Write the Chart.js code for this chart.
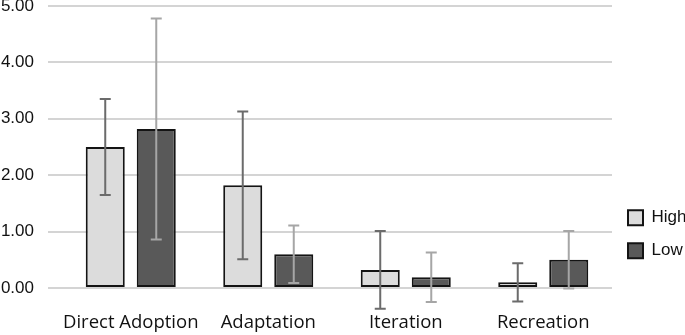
<!DOCTYPE html>
<html>
<head>
<meta charset="utf-8">
<script src="https://cdn.jsdelivr.net/npm/chart.js@4.4.1/dist/chart.umd.min.js"></script>
<style>
  html, body { margin: 0; padding: 0; background: #fff; }
  #wrap { width: 685px; height: 335px; position: relative; }
</style>
</head>
<body>
<div id="wrap"><canvas id="chart"></canvas></div>
<script>
// values
const categories = ['Direct Adoption', 'Adaptation', 'Iteration', 'Recreation']
const highValues = [2.50, 1.82, 0.32, 0.10]
const lowValues = [2.82, 0.60, 0.19, 0.50]
const highErrors = [0.85, 1.31, 0.69, 0.34]
const lowErrors = [1.96, 0.51, 0.44, 0.51]
const yTicks = [0, 1, 2, 3, 4, 5]

const colors = {
  high: '#dcdcdc',
  low: '#595959',
  border: '#141414',
  highErr: '#6b6b6b',
  lowErr: '#a6a6a6',
  grid: '#d4d4d4'
}

// draws symmetric error bars on top of each bar
const errorBars = {
  id: 'errorBars',
  afterDatasetsDraw(chart) {
    const ctx = chart.ctx
    const yScale = chart.scales.y
    chart.data.datasets.forEach((ds, di) => {
      const meta = chart.getDatasetMeta(di)
      ctx.save()
      ctx.strokeStyle = ds.errorColor
      ctx.lineWidth = 2
      meta.data.forEach((bar, i) => {
        const v = ds.data[i]
        const e = ds.errors[i]
        const yTop = yScale.getPixelForValue(v + e)
        const yBot = yScale.getPixelForValue(v - e)
        const half = 5.5
        ctx.beginPath()
        ctx.moveTo(bar.x, yTop)
        ctx.lineTo(bar.x, yBot)
        ctx.moveTo(bar.x - half, yTop)
        ctx.lineTo(bar.x + half, yTop)
        ctx.moveTo(bar.x - half, yBot)
        ctx.lineTo(bar.x + half, yBot)
        ctx.stroke()
      })
      ctx.restore()
    })
  }
}

const ctx = document.getElementById('chart').getContext('2d')
new Chart(ctx, {
  type: 'bar',
  data: {
    labels: categories,
    datasets: [{
      label: 'High',
      data: highValues,
      errors: highErrors,
      errorColor: colors.highErr,
      backgroundColor: colors.high,
      borderColor: colors.border,
      borderWidth: 2,
      borderSkipped: false,
      categoryPercentage: 0.742,
      barPercentage: 0.765
    }, {
      label: 'Low',
      data: lowValues,
      errors: lowErrors,
      errorColor: colors.lowErr,
      backgroundColor: colors.low,
      borderColor: colors.border,
      borderWidth: 2,
      borderSkipped: false,
      categoryPercentage: 0.742,
      barPercentage: 0.765
    }]
  },
  options: {
    responsive: true,
    maintainAspectRatio: false,
    animation: false,
    devicePixelRatio: 1,
    layout: { padding: { top: 0, right: 0, bottom: 3, left: 0 } },
    plugins: {
      tooltip: { enabled: false },
      legend: {
        position: 'right',
        align: 'start',
        maxWidth: 73,
        title: {
          display: true,
          text: '',
          font: { size: 1 },
          padding: { top: 192, bottom: 0 }
        },
        labels: {
          boxWidth: 15,
          boxHeight: 15,
          padding: 16,
          color: '#111',
          font: { family: '"Liberation Sans", Arial, sans-serif', size: 17 }
        }
      }
    },
    scales: {
      x: {
        afterFit: (scale) => { scale.height = 44 },
        grid: { display: false, drawTicks: false },
        border: { display: false },
        ticks: {
          padding: 24,
          maxRotation: 0,
          autoSkip: false,
          color: '#111',
          font: { family: '"Open Sans", sans-serif', size: 18.5 }
        }
      },
      y: {
        min: 0,
        max: 5,
        afterBuildTicks: (scale) => { scale.ticks = yTicks.map(v => ({ value: v })) },
        afterFit: (scale) => { scale.width = 62; scale.paddingTop = 6 },
        grid: { color: colors.grid, lineWidth: 2, drawTicks: true, tickLength: 14 },
        border: { display: false },
        ticks: {
          padding: 14,
          color: '#111',
          font: { family: '"Liberation Sans", Arial, sans-serif', size: 17 },
          callback: (v) => Number(v).toFixed(2)
        }
      }
    }
  },
  plugins: [errorBars]
})
</script>
</body>
</html>
